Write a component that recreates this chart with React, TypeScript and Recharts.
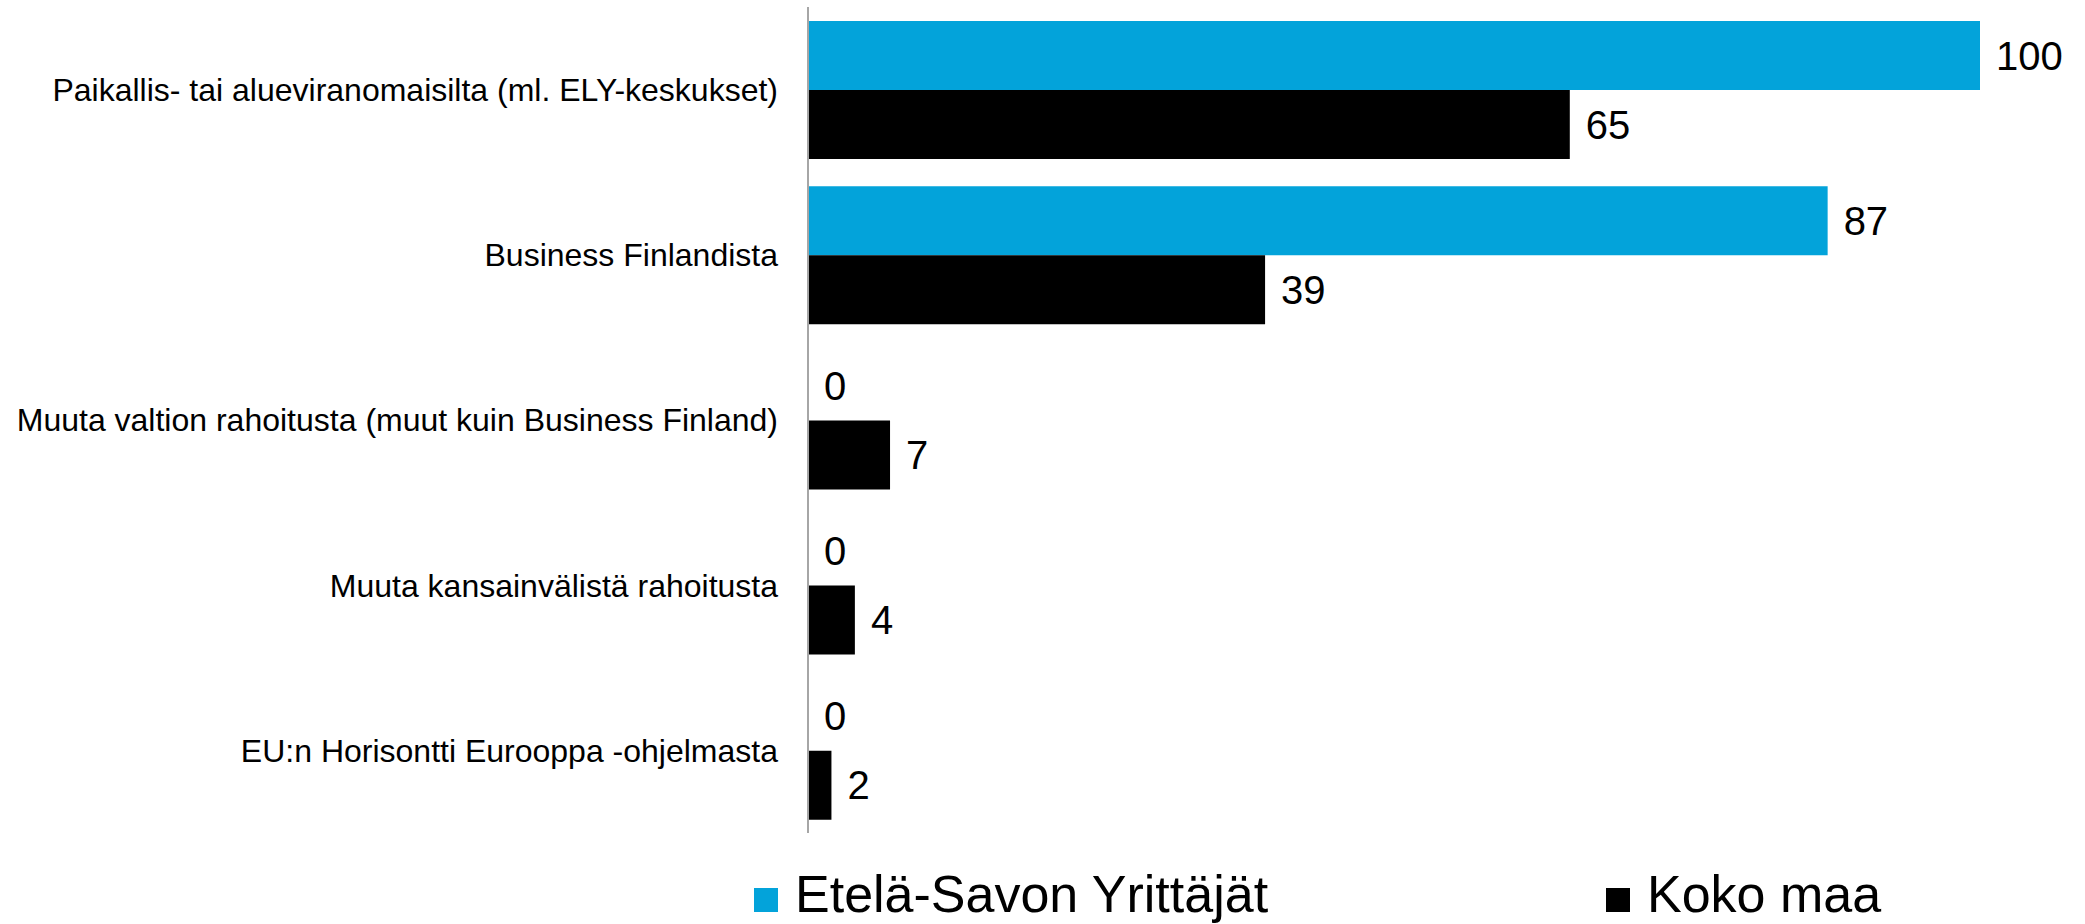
import React from "react";
import { Bar, BarChart, LabelList, Legend, XAxis, YAxis } from "recharts";

const categories = [
  "Paikallis- tai alueviranomaisilta (ml. ELY-keskukset)",
  "Business Finlandista",
  "Muuta valtion rahoitusta (muut kuin Business Finland)",
  "Muuta kansainvälistä rahoitusta",
  "EU:n Horisontti Eurooppa -ohjelmasta",
];
const etelaSavo = [100, 87, 0, 0, 0];
const kokoMaa = [65, 39, 7, 4, 2];

const BLUE = "#03a3da";
const FONT = "'Liberation Sans', Arial, sans-serif";

const chartData = categories.map((name, i) => ({
  name,
  etela: etelaSavo[i],
  koko: kokoMaa[i],
}));

// legend squares sit at fixed x positions in the original
const legendLeft = [754, 1606];
const LEGEND_H = 60;

const renderLegend = (props: any) => {
  const items = props.payload ?? [];
  return (
    <div style={{ position: "relative", width: 2085, height: LEGEND_H }}>
      {items.map((p: any, i: number) => (
        <div
          key={p.value}
          style={{
            position: "absolute",
            left: legendLeft[i],
            top: 0,
            display: "flex",
            alignItems: "center",
            fontFamily: FONT,
            fontSize: 52,
            lineHeight: "52px",
            color: "#000",
            whiteSpace: "nowrap",
          }}
        >
          <span
            style={{
              display: "inline-block",
              width: 24,
              height: 24,
              background: p.color,
              marginRight: 17,
              marginTop: 12,
            }}
          />
          {p.value}
        </div>
      ))}
    </div>
  );
};

// value label drawn to the right of the bar end, also for zero-length bars
const valueLabel = (props: any) => {
  const { x, y, width, height, value } = props;
  if (value == null) return null;
  return (
    <text
      x={Number(x) + Number(width || 0) + 16}
      y={Number(y) + Number(height) / 2}
      dominantBaseline="central"
      fill="#000"
      fontSize={40}
      fontFamily={FONT}
    >
      {value}
    </text>
  );
};

export default function App() {
  return (
    <div style={{ position: "absolute", left: 0, top: 0, width: 2085, height: 924 }}>
      <BarChart
        width={2085}
        height={924}
        data={chartData}
        layout="vertical"
        margin={{ top: 7, right: 105, bottom: 91 - LEGEND_H, left: 0 }}
        barGap={0}
      >
        <XAxis type="number" domain={[0, 100]} hide />
        <YAxis
          type="category"
          dataKey="name"
          width={808}
          tickLine={false}
          tickSize={0}
          tickMargin={30}
          axisLine={{ stroke: "#a6a6a6", strokeWidth: 2 }}
          tick={{ fill: "#000", fontSize: 32, fontFamily: FONT }}
          interval={0}
        />
        <Legend
          verticalAlign="bottom"
          content={renderLegend}
          wrapperStyle={{ position: "absolute", left: 0, top: 868, width: 2085 }}
        />
        <Bar
          dataKey="etela"
          name="Etelä-Savon Yrittäjät"
          fill={BLUE}
          barSize={69}
          minPointSize={0.01}
          isAnimationActive={false}
        >
          <LabelList dataKey="etela" content={valueLabel} />
        </Bar>
        <Bar
          dataKey="koko"
          name="Koko maa"
          fill="#000"
          barSize={69}
          minPointSize={0.01}
          isAnimationActive={false}
        >
          <LabelList dataKey="koko" content={valueLabel} />
        </Bar>
      </BarChart>
    </div>
  );
}
